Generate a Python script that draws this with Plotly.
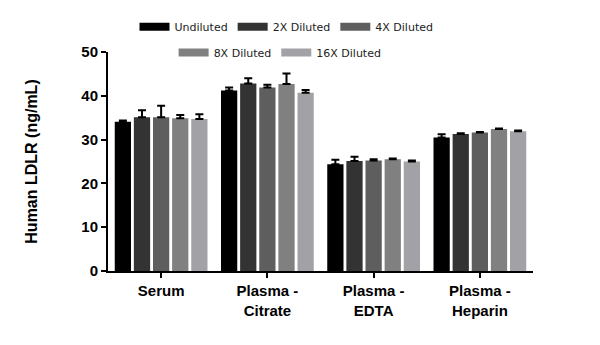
import plotly.graph_objects as go

categories = ["Serum", "Plasma -<br>Citrate", "Plasma -<br>EDTA", "Plasma -<br>Heparin"]
series_names = ["Undiluted", "2X Diluted", "4X Diluted", "8X Diluted", "16X Diluted"]
colors = ["#000000", "#333333", "#5e5e5e", "#808080", "#a2a2a6"]

undiluted = [34.1, 41.2, 24.4, 30.5]
dil_2x = [35.1, 42.8, 25.1, 31.3]
dil_4x = [35.1, 41.9, 25.2, 31.6]
dil_8x = [34.9, 42.7, 25.5, 32.4]
dil_16x = [34.7, 40.7, 25.0, 31.9]

err_undiluted = [0.25, 0.7, 1.0, 0.7]
err_2x = [1.6, 1.2, 1.0, 0.15]
err_4x = [2.6, 0.6, 0.3, 0.15]
err_8x = [0.7, 2.4, 0.2, 0.15]
err_16x = [1.1, 0.6, 0.2, 0.2]

values = [undiluted, dil_2x, dil_4x, dil_8x, dil_16x]
errors = [err_undiluted, err_2x, err_4x, err_8x, err_16x]

font_main = "Liberation Sans"

fig = go.Figure()
for name, vals, errs, col in zip(series_names, values, errors, colors):
    fig.add_trace(go.Bar(
        x=categories, y=vals, name=name, marker_color=col,
        marker_line_width=0, showlegend=False,
        error_y=dict(type="data", array=errs, arrayminus=[0] * len(errs),
                     symmetric=False, color="black", thickness=2, width=4),
    ))

# legend entries (two centered rows)
for i, (name, col) in enumerate(zip(series_names, colors)):
    fig.add_trace(go.Scatter(
        x=[None], y=[None], mode="lines", name=name,
        line=dict(color=col, width=8),
        legend="legend" if i < 3 else "legend2",
        hoverinfo="skip",
    ))

legend_common = dict(orientation="h", xanchor="center", yanchor="middle",
                     font=dict(family="DejaVu Sans", size=11, color="#222222"),
                     bgcolor="rgba(0,0,0,0)", itemwidth=30, tracegroupgap=0)

fig.update_layout(
    width=600, height=345,
    margin=dict(l=108, r=67, t=47, b=74),
    paper_bgcolor="white", plot_bgcolor="white",
    barmode="group", bargap=0.1, bargroupgap=0.15,
    legend=dict(x=0.42, y=1.115, **legend_common),
    legend2=dict(x=0.405, y=0.998, **legend_common),
    font=dict(family=font_main, color="black"),
)

fig.update_xaxes(
    showline=True, linecolor="black", linewidth=2,
    ticks="outside", ticklen=5, tickwidth=2, tickcolor="black",
    tickfont=dict(family=font_main, size=15, color="black", weight="bold"),
    showgrid=False, range=[-0.5, 3.5],
)
fig.update_yaxes(
    range=[0, 50], dtick=10, showline=True, linecolor="black", linewidth=2,
    ticks="outside", ticklen=5, tickwidth=2, tickcolor="black",
    tickfont=dict(family=font_main, size=15, color="black", weight="bold"),
    showgrid=False, zeroline=False,
    title=dict(text="Human LDLR (ng/mL)", standoff=40,
               font=dict(family=font_main, size=16, color="black", weight="bold")),
)

fig.write_html("out.html")
